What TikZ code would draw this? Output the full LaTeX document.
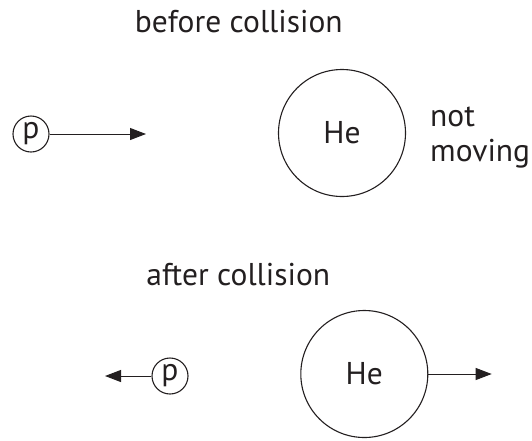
\documentclass[tikz,border=0pt]{standalone}
\usepackage{fontspec}
\setmainfont{PT Sans}
\usetikzlibrary{arrows.meta}
\definecolor{ink}{HTML}{231F20}
\begin{document}
\begin{tikzpicture}[x=1pt,y=-1pt,
  lbl/.style={inner sep=0pt,text=ink,font=\fontsize{31.5}{35}\selectfont},
  ball/.style={circle,draw=ink,line width=1.1pt,inner sep=0pt,text=ink,font=\fontsize{31.5}{35}\selectfont},
  mv/.style={draw=ink,line width=1pt,-{Triangle[length=16pt,width=12pt]}}]
\useasboundingbox (0,0) rectangle (532,440);
\node[lbl,anchor=base] (t1) at (238.8,32.3) {before collision};
\node[ball,minimum size=36pt] (p1) at (31,134) {p};
\coordinate (a1) at (146,134);
\draw[mv] (p1.east) -- (a1);
\node[ball,minimum size=127pt] (he1) at (342,133) {He};
\node[lbl,anchor=base west,align=left] (nm) at (430,161.7) {not\\moving};
\node[lbl,anchor=base] (t2) at (238.3,285) {after collision};
\node[ball,minimum size=36pt] (p2) at (170,376) {p};
\coordinate (a2) at (105,376);
\draw[mv] (p2.west) -- (a2);
\node[ball,minimum size=127pt] (he2) at (364.3,374) {He};
\coordinate (a3) at (491.7,374);
\draw[mv] (he2.east) -- (a3);
\end{tikzpicture}
\end{document}
